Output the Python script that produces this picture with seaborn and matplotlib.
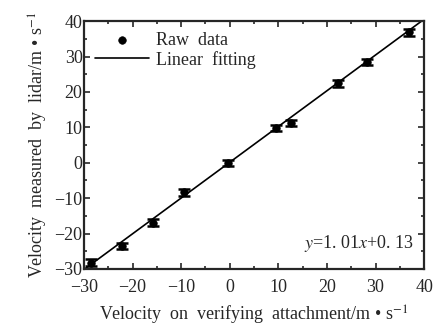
import numpy as np
import pandas as pd
import matplotlib
matplotlib.use("Agg")
import matplotlib.pyplot as plt
from matplotlib.ticker import MultipleLocator
import seaborn as sns

# readings taken off the chart
ref_speed = [-28.6, -22.2, -15.7, -9.5, -0.3, 9.5, 12.6, 22.2, 28.3, 36.8]
lidar_speed = [-28.2, -23.6, -16.9, -8.4, -0.1, 9.9, 11.3, 22.4, 28.5, 36.8]
err = [0.9, 0.9, 0.9, 0.9, 0.9, 0.9, 0.9, 0.9, 0.9, 0.9]
slope, intercept = 1.01, 0.13

df = pd.DataFrame({"x": ref_speed, "y": lidar_speed, "err": err})
fit_x = [-30, 40]
fit = pd.DataFrame({"x": fit_x, "y": [slope * v + intercept for v in fit_x]})

sns.set_style("ticks")
plt.rcParams["font.family"] = ["Liberation Serif", "DejaVu Serif"]
plt.rcParams["mathtext.fontset"] = "stix"

fig, ax = plt.subplots(figsize=(4.35, 3.3), dpi=100)
fig.subplots_adjust(left=0.193, right=0.975, top=0.936, bottom=0.185)

sns.lineplot(data=fit, x="x", y="y", color="black", linewidth=1.2, ax=ax, label="Linear fitting")
ax.errorbar(df["x"], df["y"], yerr=df["err"], fmt="none", ecolor="black",
            elinewidth=2.5, capsize=4.5, capthick=1.8)
sns.scatterplot(data=df, x="x", y="y", color="black", s=30, ax=ax,
                edgecolor="black", label="Raw data", zorder=3)

ax.set_xlim(-30, 40)
ax.set_ylim(-30, 40)
ax.xaxis.set_major_locator(MultipleLocator(10))
ax.yaxis.set_major_locator(MultipleLocator(10))
ax.xaxis.set_minor_locator(MultipleLocator(5))
ax.yaxis.set_minor_locator(MultipleLocator(5))
ax.tick_params(which="both", direction="in", top=True, right=True, labelsize=13, width=1.2)
ax.tick_params(which="major", length=4)
ax.tick_params(axis="x", which="major", pad=7)
ax.tick_params(axis="y", which="major", pad=1)
ax.tick_params(which="minor", length=2.5)
for s in ax.spines.values():
    s.set_linewidth(1.6)

ax.set_xlabel("Velocity  on  verifying  attachment/m • s$^{-1}$", fontsize=13, labelpad=6)
ax.set_ylabel("Velocity  measured  by  lidar/m • s$^{-1}$", fontsize=13, labelpad=3)

handles, labels = ax.get_legend_handles_labels()
order = [labels.index("Raw data"), labels.index("Linear fitting")]
ax.legend([handles[i] for i in order], ["Raw  data", "Linear  fitting"], loc="upper left",
          frameon=False, fontsize=13, handlelength=3.0, borderaxespad=0.2,
          labelspacing=0.1, handletextpad=0.4)

ax.text(0.97, 0.06, "$y$=1. 01$x$+0. 13", transform=ax.transAxes, ha="right",
        va="bottom", fontsize=13)

fig.savefig("out.png", dpi=100)
